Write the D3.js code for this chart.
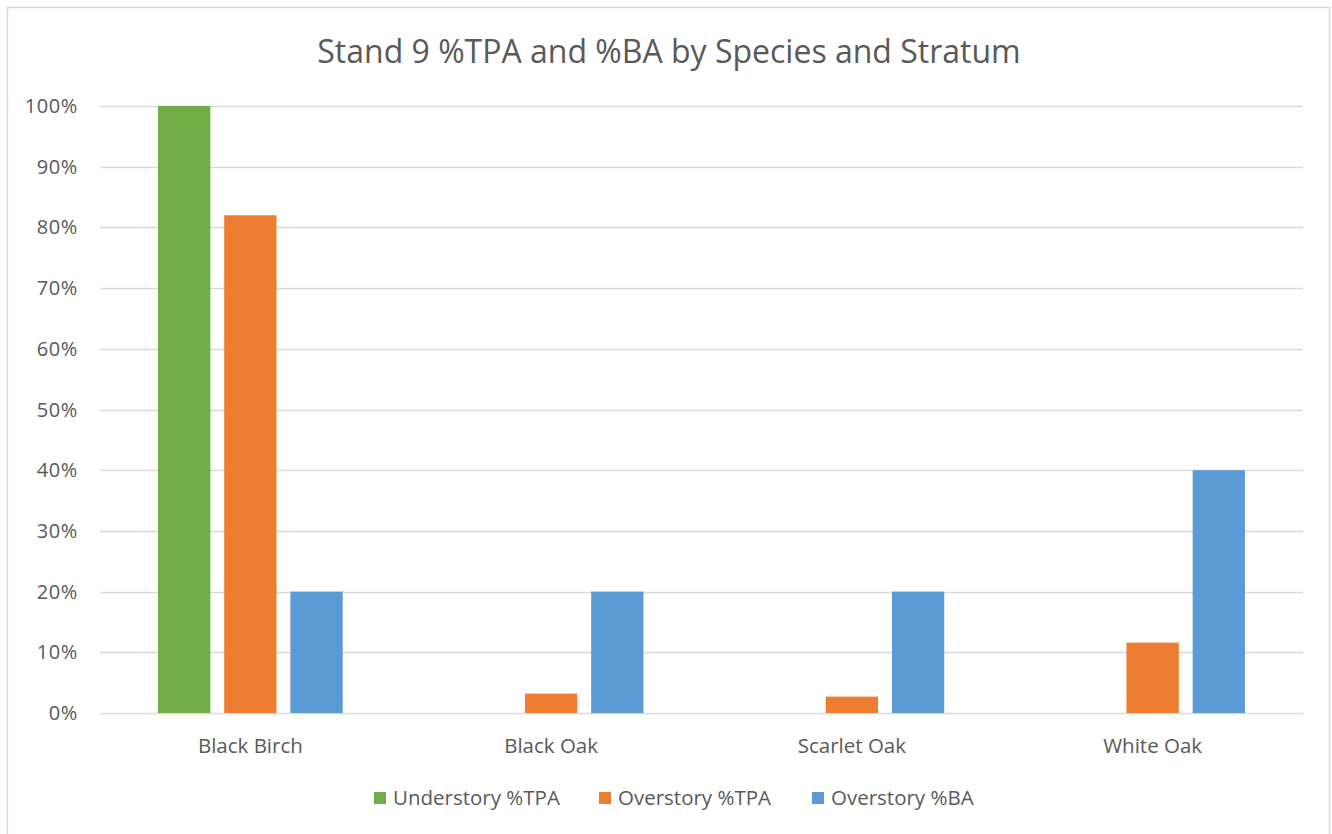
<!DOCTYPE html>
<html>
<head>
<meta charset="utf-8">
<script src="https://cdn.jsdelivr.net/npm/d3@7"></script>
<style>
  body { margin: 0; background: #fff; }
  text { font-family: "Open Sans", "Liberation Sans", sans-serif; fill: #595959; }
</style>
</head>
<body>
<div id="chart"></div>
<script>
const species = ["Black Birch", "Black Oak", "Scarlet Oak", "White Oak"];
const seriesNames = ["Understory %TPA", "Overstory %TPA", "Overstory %BA"];
const seriesColors = ["#70ad47", "#ed7d31", "#5b9bd5"];
const understoryTPA = [1.00, 0, 0, 0];
const overstoryTPA = [0.82, 0.032, 0.027, 0.116];
const overstoryBA = [0.20, 0.20, 0.20, 0.40];
const yTicks = [0, 0.1, 0.2, 0.3, 0.4, 0.5, 0.6, 0.7, 0.8, 0.9, 1.0];

const W = 1332, H = 834;
const plot = { left: 100, right: 1303, top: 106, bottom: 713 };

const svg = d3.select("#chart").append("svg")
  .attr("width", W)
  .attr("height", H);

// chart border (bottom edge runs off the picture)
svg.append("rect")
  .attr("x", 7.5).attr("y", 7.5)
  .attr("width", 1322).attr("height", 840)
  .attr("fill", "#fff")
  .attr("stroke", "#d9d9d9")
  .attr("stroke-width", 1.5);

const x = d3.scaleBand()
  .domain(species)
  .range([plot.left, plot.right])
  .paddingInner(0.386)
  .paddingOuter(0.193);

const x1 = d3.scaleBand()
  .domain(seriesNames)
  .range([0, x.bandwidth()])
  .paddingInner(0.21);

const y = d3.scaleLinear()
  .domain([0, 1])
  .range([plot.bottom, plot.top]);

// gridlines
svg.append("g")
  .selectAll("line")
  .data(yTicks)
  .join("line")
  .attr("x1", plot.left).attr("x2", plot.right)
  .attr("y1", d => Math.round(y(d)) + 0.5)
  .attr("y2", d => Math.round(y(d)) + 0.5)
  .attr("stroke", "#d9d9d9")
  .attr("stroke-width", 1.3);

// y tick labels
svg.append("g")
  .selectAll("text")
  .data(yTicks)
  .join("text")
  .attr("x", 78)
  .attr("y", d => y(d) + 7)
  .attr("text-anchor", "end")
  .attr("font-size", "20px")
  .attr("letter-spacing", "0.6px")
  .text(d => d3.format(".0%")(d));

// bars
const seriesData = [understoryTPA, overstoryTPA, overstoryBA];
seriesNames.forEach((name, si) => {
  svg.append("g")
    .selectAll("rect")
    .data(species.map((s, i) => ({ s, v: seriesData[si][i] })).filter(d => d.v > 0))
    .join("rect")
    .attr("x", d => x(d.s) + x1(name))
    .attr("y", d => y(d.v))
    .attr("width", x1.bandwidth())
    .attr("height", d => y(0) - y(d.v))
    .attr("fill", seriesColors[si]);
});

// x labels
svg.append("g")
  .selectAll("text")
  .data(species)
  .join("text")
  .attr("x", d => x(d) + x.bandwidth() / 2)
  .attr("y", 753)
  .attr("text-anchor", "middle")
  .attr("font-size", "20.5px")
  .text(d => d);

// title
svg.append("text")
  .attr("x", 669)
  .attr("y", 63)
  .attr("text-anchor", "middle")
  .attr("font-size", "32px")
  .text("Stand 9 %TPA and %BA by Species and Stratum");

// legend
const legendX = [374, 599, 812];
const legend = svg.append("g");
seriesNames.forEach((name, i) => {
  legend.append("rect")
    .attr("x", legendX[i]).attr("y", 792)
    .attr("width", 12).attr("height", 12)
    .attr("fill", seriesColors[i]);
  legend.append("text")
    .attr("x", legendX[i] + 19)
    .attr("y", 805)
    .attr("font-size", "20.5px")
    .text(name);
});
</script>
</body>
</html>
